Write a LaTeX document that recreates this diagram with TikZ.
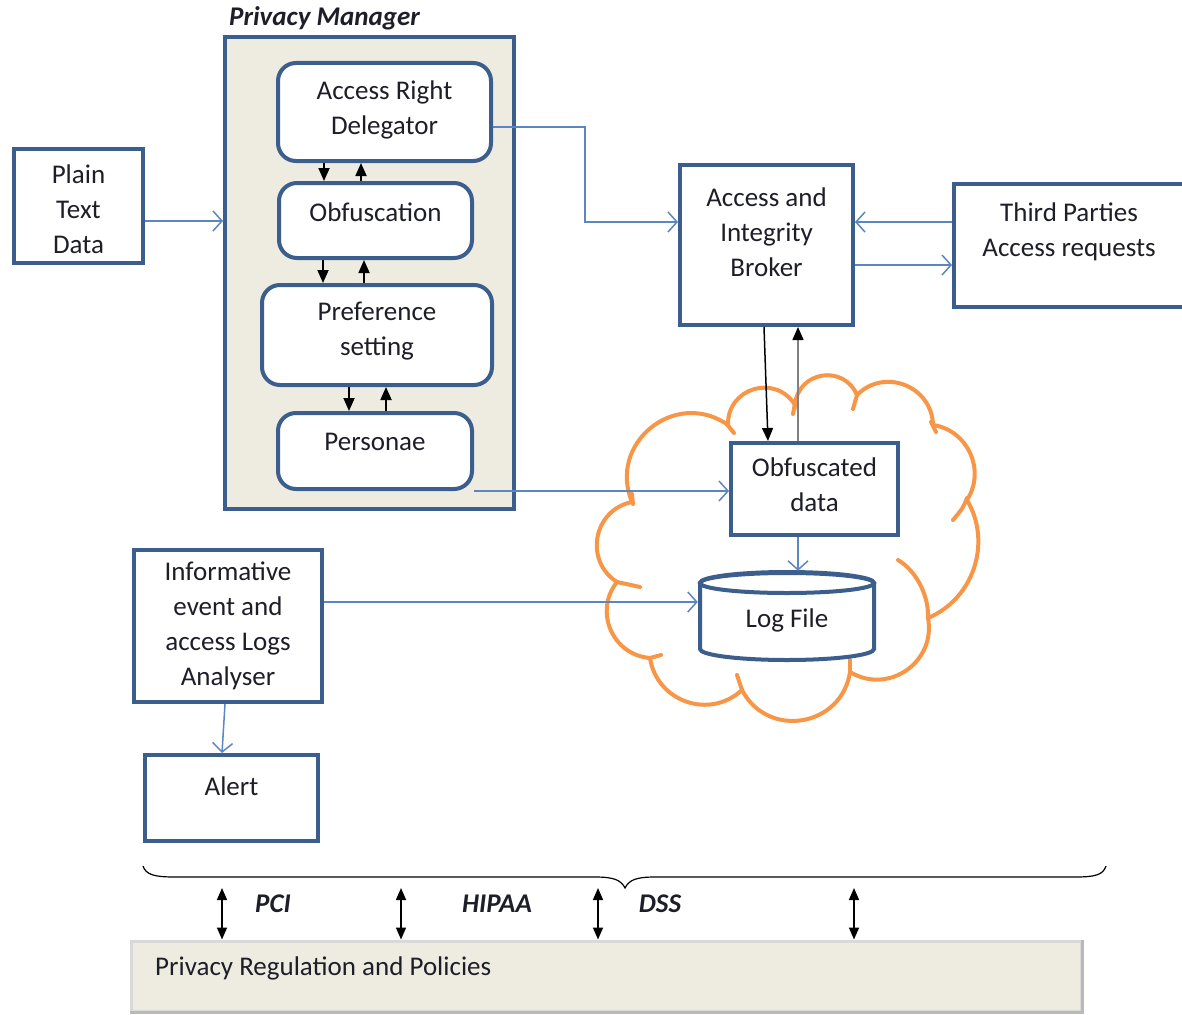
\documentclass[tikz,border=0pt]{standalone}
\usepackage{fontspec}
\setmainfont{Carlito}
\usetikzlibrary{arrows.meta}
\definecolor{boxblue}{HTML}{3B5E8C}
\definecolor{linkblue}{HTML}{5B86C2}
\definecolor{paper}{HTML}{EEECE1}
\definecolor{cloudorange}{HTML}{F79646}
\definecolor{inkc}{HTML}{1E1E28}
\begin{document}
\begin{tikzpicture}[x=1pt,y=-1pt,
  font=\fontsize{27}{35}\selectfont,
  box/.style={draw=boxblue, line width=4pt, fill=white, inner sep=0pt},
  rbox/.style={box, rounded corners=18pt},
  link/.style={draw=linkblue, line width=1.5pt, -{Straight Barb[length=9pt,width=20pt]}},
  dark/.style={draw=black, line width=1.8pt, -{Triangle[length=13pt,width=11pt]}},
  twoway/.style={draw=black, line width=1.6pt, {Triangle[length=12pt,width=10pt]}-{Triangle[length=12pt,width=10pt]}},
  lbl/.style={text=inkc, align=center, inner sep=0pt},
  tag/.style={text=inkc, inner sep=0pt, font=\fontsize{27}{30}\selectfont\bfseries\itshape},
  puff/.style={cloudorange, line width=4pt, line cap=round}]
\useasboundingbox (0,0) rectangle (1182,1014);

% Privacy manager frame and its modules
\node[tag, anchor=west] (pmtitle) at (229,18) {Privacy Manager};
\node[draw=boxblue, line width=4pt, fill=paper, minimum width=289pt, minimum height=472pt] (pm) at (369.5,273) {};
\node[rbox, minimum width=213pt, minimum height=98pt] (ard) at (384.5,112) {};
\node[rbox, minimum width=193pt, minimum height=75pt] (obf) at (375.5,220.5) {};
\node[rbox, minimum width=230pt, minimum height=100pt] (pref) at (377,335) {};
\node[rbox, minimum width=194pt, minimum height=76pt] (pers) at (375,451) {};
\node[lbl] (ardt) at (384.5,110) {Access Right\\Delegator};
\node[lbl] (obft) at (375.5,212) {Obfuscation};
\node[lbl] (preft) at (377,331) {Preference\\setting};
\node[lbl] (perst) at (375,442) {Personae};

% module-to-module exchanges
\draw[dark] (ard.south -| 324,0) -- (obf.north -| 324,0);
\draw[dark] (obf.north -| 361,0) -- (ard.south -| 361,0);
\draw[dark] (obf.south -| 323,0) -- (pref.north -| 323,0);
\draw[dark] (pref.north -| 364,0) -- (obf.south -| 364,0);
\draw[dark] (pref.south -| 349,0) -- (pers.north -| 349,0);
\draw[dark] (pers.north -| 386,0) -- (pref.south -| 386,0);

% input data
\node[box, minimum width=129pt, minimum height=114pt] (plain) at (78.5,206) {};
\node[lbl] (plaint) at (78.5,209) {Plain\\Text\\Data};
\draw[link] (plain.east |- 0,221) -- (pm.west |- 0,221);

% broker and external parties
\node[box, minimum width=173pt, minimum height=160pt] (broker) at (766.5,245) {};
\node[lbl] (brokert) at (766.5,232) {Access and\\Integrity\\Broker};
\node[box, minimum width=236pt, minimum height=123pt] (third) at (1072,245.5) {};
\node[lbl] (thirdt) at (1069,232) {Third Parties\\Access requests};
\draw[link] (ard.east |- 0,127) -- (585,127) -- (585,222) -- (broker.west |- 0,222);
\draw[link] (third.west |- 0,222) -- (broker.east |- 0,222);
\draw[link] (broker.east |- 0,265) -- (third.west |- 0,265);

% storage cloud: outer puffs, then the short curls where puffs overlap
\draw[puff, fill=white]
  (632,502) to[bend left=74, looseness=1.33] (728,425)
  to[bend left=75, looseness=1.36] (795,405)
  to[bend left=76, looseness=1.38] (857,395)
  to[bend left=67, looseness=1.22] (933,425)
  to[bend left=57, looseness=1.10] (967,500)
  to[bend left=49, looseness=1.02] (928,618)
  to[bend left=66, looseness=1.21] (850,672)
  to[bend left=72, looseness=1.30] (742,690)
  to[bend left=62, looseness=1.16] (650,658)
  to[bend left=62, looseness=1.16] (617,582)
  to[bend left=68, looseness=1.24] cycle;
\draw[puff] (928,618) .. controls (929,598) and (918,572) .. (898,560);
\draw[puff] (967,498) .. controls (963,508) .. (953,520);
\draw[puff] (726,423) -- (734,433);
\draw[puff] (795,403) -- (793,414);
\draw[puff] (857,395) -- (853,409);
\draw[puff] (931,422) -- (936,432);
\draw[puff] (850,672) -- (850,660);
\draw[puff] (742,690) -- (737,675);
\draw[puff] (650,658) -- (661,655);
\draw[puff] (617,582) -- (640,587);
\draw[puff] (632,494) -- (633,504);

\node[box, minimum width=167pt, minimum height=92pt] (obfd) at (814.5,489) {};
\node[lbl] (obfdt) at (814.5,485) {Obfuscated\\data};

% log file cylinder
\node[inner sep=0pt, minimum width=178pt, minimum height=90pt] (log) at (787,616) {};
\draw[boxblue, line width=4pt, fill=white]
  (700,583) -- (700,649) arc[start angle=180, end angle=360, x radius=87pt, y radius=11pt]
  -- (874,583) arc[start angle=0, end angle=180, x radius=87pt, y radius=11pt] -- cycle;
\draw[boxblue, line width=4pt] (787,583) ellipse [x radius=87pt, y radius=10pt];
\node[lbl] (logt) at (787,620) {Log File};

\draw[dark, line width=1.5pt] (broker.south -| 764,0) -- (obfd.north -| 768,0);
\draw[draw=gray, line width=1.5pt, -{Triangle[length=13pt,width=11pt,color=black]}] (obfd.north -| 798,0) -- (broker.south -| 798,0);
\draw[link] (pers.south east) -- (pers.south east -| obfd.west);
\draw[link] (obfd.south -| 798,0) -- (log.north -| 798,0);

% analyser and alert
\node[box, minimum width=188pt, minimum height=152pt] (info) at (228,626) {};
\node[lbl] (infot) at (228,626) {Informative\\event and\\access Logs\\Analyser};
\node[box, minimum width=173pt, minimum height=86pt] (alert) at (231.5,798) {};
\node[lbl] (alertt) at (231.5,786) {Alert};
\draw[link] (info.east |- 0,602) -- (log.west |- 0,602);
\draw[link] (info.south -| 225,0) -- (alert.north -| 222,0);

% regulation layer
\draw[black, line width=1.2pt]
  (143,866) .. controls (146,875) and (155,877) .. (175,877) -- (595,877)
  .. controls (614,877) and (621,880) .. (625,888)
  .. controls (629,880) and (636,877) .. (655,877) -- (1075,877)
  .. controls (1095,877) and (1103,875) .. (1106,866);
\node[draw=gray!30, line width=3pt, fill=paper, minimum width=950pt, minimum height=70pt, inner sep=0pt] (reg) at (606,976) {};
\draw[gray!55, line width=3pt] (reg.north east) -- (reg.south east) -- (reg.south west);
\node[lbl, anchor=west] (regt) at (155,968) {Privacy Regulation and Policies};
\coordinate (brace) at (0,888);
\draw[twoway] (brace -| 222,0) -- (reg.north -| 222,0);
\draw[twoway] (brace -| 401,0) -- (reg.north -| 401,0);
\draw[twoway] (brace -| 598,0) -- (reg.north -| 598,0);
\draw[twoway] (brace -| 854,0) -- (reg.north -| 854,0);
\node[tag] (pci) at (273,904) {PCI};
\node[tag] (hipaa) at (497,904) {HIPAA};
\node[tag] (dss) at (660,904) {DSS};
\end{tikzpicture}
\end{document}
